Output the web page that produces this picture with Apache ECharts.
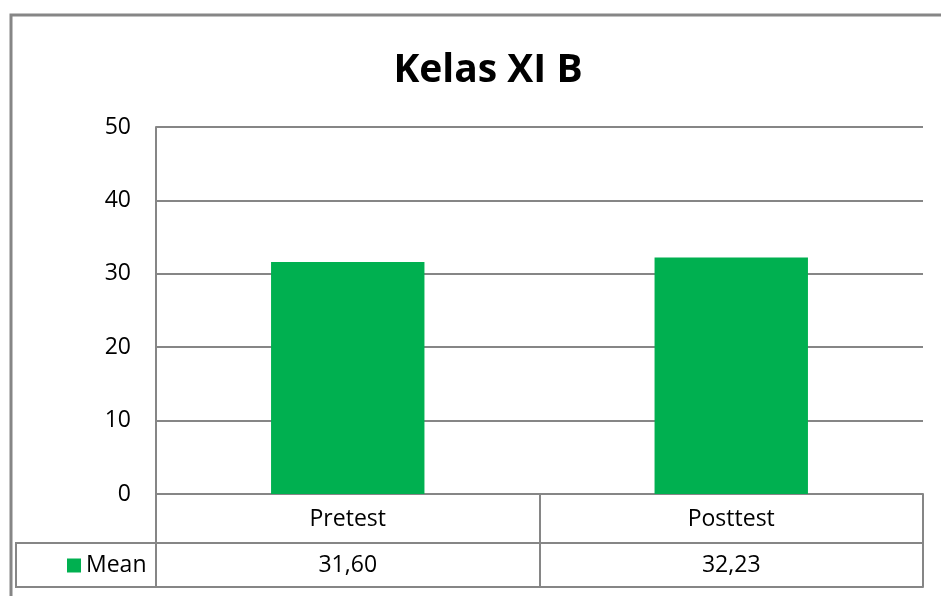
<!DOCTYPE html>
<html>
<head>
<meta charset="utf-8">
<script src="https://cdn.jsdelivr.net/npm/echarts@6/dist/echarts.min.js"></script>
<style>
  html, body { margin: 0; padding: 0; background: #fff; }
  #chart { width: 941px; height: 596px; }
</style>
</head>
<body>
<div id="chart"></div>
<script>
var categories = ['Pretest', 'Posttest'];
var meanValues = [31.60, 32.23];
var seriesName = 'Mean';
var yTicks = { min: 0, max: 50, interval: 10 };

var lineGray = '#868686';
var green = '#00B050';
var font = 'Open Sans';

function fmt(v) {
    return v.toFixed(2).replace('.', ',');
}

function createBar() {
    var myChart = echarts.init(document.getElementById('chart'));

    var option = {
        animation: false,
        title: {
            text: 'Kelas XI B',
            left: 483,
            top: 46,
            textAlign: 'center',
            textStyle: {
                fontFamily: font,
                fontSize: 39,
                fontWeight: 'bold',
                color: '#000'
            }
        },
        legend: {
            data: [seriesName],
            left: 62,
            top: 549,
            itemWidth: 14,
            itemHeight: 14,
            itemGap: 6,
            icon: 'rect',
            textStyle: { fontFamily: font, fontSize: 23, color: '#000' }
        },
        grid: {
            left: 156,
            right: 18,
            top: 127,
            bottom: 102
        },
        xAxis: [{
            type: 'category',
            data: categories,
            position: 'bottom',
            axisLine: { show: true, lineStyle: { color: lineGray, width: 2 } },
            axisTick: { show: true, length: 93, lineStyle: { color: lineGray, width: 2 } },
            axisLabel: { margin: 14, fontFamily: font, fontSize: 23, color: '#000' }
        }, {
            type: 'category',
            data: categories,
            position: 'bottom',
            offset: 49,
            axisLine: { show: true, lineStyle: { color: lineGray, width: 2 } },
            axisTick: { show: false },
            axisLabel: {
                margin: 11,
                fontFamily: font,
                fontSize: 23,
                color: '#000',
                formatter: function (value, idx) {
                    return fmt(meanValues[idx]);
                }
            }
        }, {
            type: 'category',
            data: categories,
            position: 'bottom',
            offset: 93,
            axisLine: { show: true, lineStyle: { color: lineGray, width: 2 } },
            axisTick: { show: false },
            axisLabel: { show: false }
        }],
        yAxis: {
            type: 'value',
            min: yTicks.min,
            max: yTicks.max,
            interval: yTicks.interval,
            axisLine: { show: true, lineStyle: { color: lineGray, width: 2 } },
            axisTick: { show: false },
            axisLabel: { margin: 25, fontFamily: font, fontSize: 23, color: '#000' },
            splitLine: { lineStyle: { color: lineGray, width: 2 } }
        },
        series: [{
            name: seriesName,
            type: 'bar',
            xAxisIndex: 0,
            barWidth: '40%',
            data: meanValues,
            itemStyle: { color: green }
        }],
        graphic: [
            // outer chart frame
            { type: 'polyline', shape: { points: [[11, 596], [11, 15], [941, 15]] },
              style: { stroke: lineGray, lineWidth: 3, fill: null } },
            // legend cell of the data table
            { type: 'polyline', shape: { points: [[156, 543], [16, 543], [16, 587], [156, 587]] },
              style: { stroke: lineGray, lineWidth: 2, fill: null } }
        ]
    };

    myChart.setOption(option);
}

createBar();
</script>
</body>
</html>
